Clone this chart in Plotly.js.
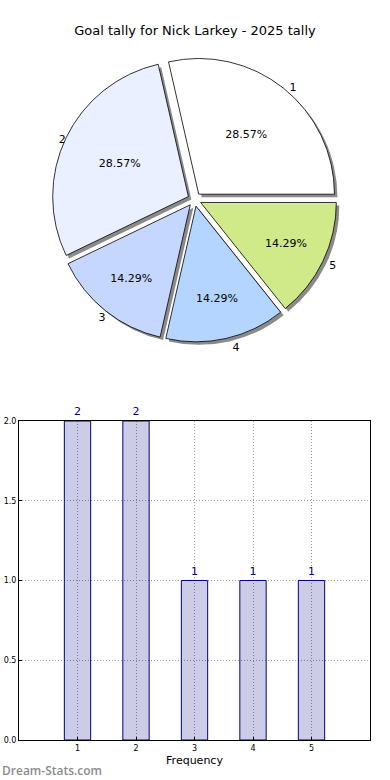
<!DOCTYPE html>
<html>
<head>
<meta charset="utf-8">
<script src="https://cdn.plot.ly/plotly-3.0.1.min.js"></script>
<style>html,body{margin:0;padding:0;background:#fff;}#chart{width:390px;height:780px;}</style>
</head>
<body>
<div id="chart"></div>
<script>
const categories = ["1", "2", "3", "4", "5"];
const goals = [2, 2, 1, 1, 1];
const sliceColors = ["#ffffff", "#eaf0ff", "#c6d7ff", "#b3d5ff", "#d0ea8a"];
const chartTitle = "Goal tally for Nick Larkey - 2025 tally";
const xTitle = "Frequency";
const yTicks = [0, 0.5, 1, 1.5, 2];

const W = 390, H = 780;
const font = "DejaVu Sans, sans-serif";
const pull = categories.map(() => 0.05);
const total = goals.reduce((a, b) => a + b, 0);
// first slice starts at 3 o'clock and runs counterclockwise
const rot = 90 - 360 * goals[0] / total;

// pie box in pixels
const px0 = 52, px1 = 337, py0 = 57, py1 = 342;
const sh = 3; // shadow offset in px

const shadow = {
  type: "pie",
  labels: categories,
  values: goals,
  sort: false,
  direction: "counterclockwise",
  rotation: rot,
  pull: pull,
  marker: {colors: categories.map(() => "#8a8a8a"), line: {color: "#8a8a8a", width: 0}},
  textposition: "outside",
  texttemplate: "%{label}",
  textfont: {family: font, size: 11, color: "#000"},
  hoverinfo: "skip",
  showlegend: false,
  domain: {x: [(px0 + sh) / W, (px1 + sh) / W], y: [1 - (py1 + sh) / H, 1 - (py0 + sh) / H]}
};

const pie = {
  type: "pie",
  labels: categories,
  values: goals,
  sort: false,
  direction: "counterclockwise",
  rotation: rot,
  pull: pull,
  marker: {colors: sliceColors, line: {color: "#000", width: 0.8}},
  textposition: "inside",
  insidetextorientation: "horizontal",
  texttemplate: "%{percent:.2%}",
  textfont: {family: font, size: 11, color: "#000"},
  showlegend: false,
  domain: {x: [px0 / W, px1 / W], y: [1 - py1 / H, 1 - py0 / H]}
};

const bars = {
  type: "bar",
  x: categories.map(Number),
  y: goals,
  width: 0.45,
  marker: {color: "rgba(0,0,128,0.2)", line: {color: "#000080", width: 1}},
  text: goals.map(String),
  textposition: "outside",
  textfont: {family: font, size: 11, color: "#000080"},
  cliponaxis: false,
  showlegend: false,
  xaxis: "x",
  yaxis: "y"
};

const layout = {
  width: W, height: H,
  margin: {l: 0, r: 0, t: 0, b: 0},
  paper_bgcolor: "#fff",
  plot_bgcolor: "#fff",
  font: {family: font, color: "#000"},
  title: {text: chartTitle, font: {family: font, size: 13, color: "#000"}, x: 0.5, xanchor: "center", y: 1 - 30 / H, yanchor: "middle"},
  xaxis: {
    domain: [19 / W, 370 / W],
    range: [0, 6],
    tickvals: categories.map(Number),
    ticktext: categories,
    tickfont: {family: font, size: 8, color: "#000"},
    ticks: "inside", ticklen: 3, tickcolor: "#000",
    showgrid: true, gridcolor: "#999999", griddash: "1px,2px", gridwidth: 1,
    showline: true, linecolor: "#000", linewidth: 1, mirror: true,
    zeroline: false,
    title: {text: xTitle, font: {family: font, size: 11, color: "#000"}, standoff: 4},
    anchor: "y", fixedrange: true
  },
  yaxis: {
    domain: [1 - 740 / H, 1 - 421 / H],
    range: [0, 2],
    tickvals: yTicks,
    tickformat: ".1f",
    tickfont: {family: font, size: 8, color: "#000"},
    ticks: "inside", ticklen: 3, tickcolor: "#000",
    showgrid: true, gridcolor: "#999999", griddash: "1px,2px", gridwidth: 1,
    showline: true, linecolor: "#000", linewidth: 1, mirror: true,
    zeroline: false,
    anchor: "x", fixedrange: true
  },
  annotations: [{
    text: "Dream-Stats.com", xref: "paper", yref: "paper",
    x: 0, y: 1 - 770 / H, xanchor: "left", yanchor: "middle", showarrow: false,
    font: {family: "Open Sans, sans-serif", size: 12, weight: 600, color: "#8c8c8c"}
  }]
};

Plotly.newPlot("chart", [shadow, pie, bars], layout, {displayModeBar: false, staticPlot: true});
</script>
</body>
</html>
